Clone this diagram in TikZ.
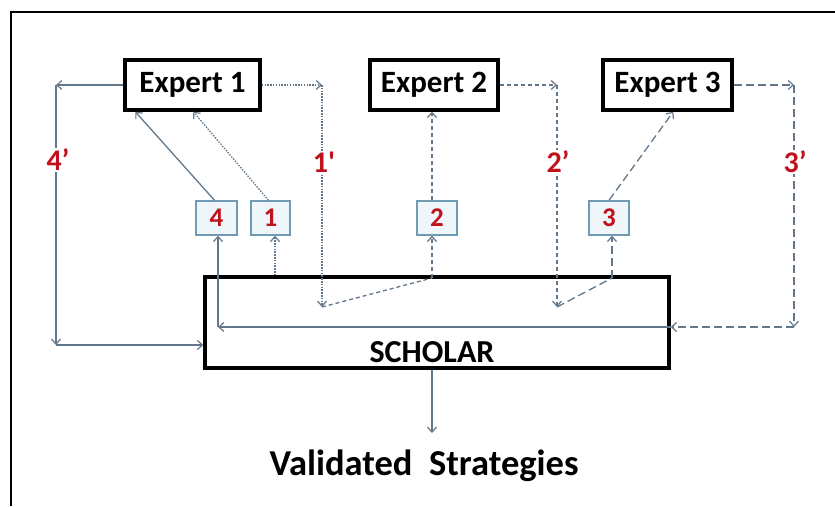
\documentclass[tikz,border=0pt]{standalone}
\usepackage{fontspec}
\setmainfont{Carlito}
\usetikzlibrary{arrows.meta,calc}
\definecolor{conn}{HTML}{63778A}
\definecolor{numred}{HTML}{C0121C}
\definecolor{boxedge}{HTML}{6F9BB5}
\definecolor{boxfill}{HTML}{EEF6FA}
\tikzset{
  bigbox/.style={draw=black,line width=3.4pt,fill=white,inner sep=0pt,font=\bfseries\fontsize{31}{31}\selectfont},
  numbox/.style={draw=boxedge,line width=1.4pt,fill=boxfill,inner sep=0pt,minimum width=40pt,minimum height=34pt,text=numred,font=\bfseries\fontsize{27}{27}\selectfont},
  conline/.style={draw=conn,line width=1.3pt},
  arr/.style={conline,-{Straight Barb[length=5pt,width=9pt,line width=1.2pt]}},
  dotl/.style={dash pattern=on 1.5pt off 1.3pt},
  shdash/.style={dash pattern=on 4pt off 3pt},
  lgdash/.style={dash pattern=on 8pt off 4pt},
  primelab/.style={fill=white,inner sep=1pt,text=numred,font=\bfseries\fontsize{30}{30}\selectfont}
}
\begin{document}
\begin{tikzpicture}[x=1pt,y=-1pt]
\useasboundingbox (0,0) rectangle (835,506);
% frame (only top and left visible)
\draw[line width=2.5pt] (835,12) -- (11,12) -- (11,506);

% main boxes
\node[bigbox,minimum width=135pt,minimum height=50pt] (e1) at (192.5,85) {Expert 1};
\node[bigbox,minimum width=128pt,minimum height=50pt] (e2) at (434,85) {Expert 2};
\node[bigbox,minimum width=129pt,minimum height=50pt] (e3) at (667.5,85) {Expert 3};
\node[bigbox,minimum width=464pt,minimum height=91pt] (sch) at (437,322.5) {};
\node[font=\bfseries\fontsize{32}{32}\selectfont,inner sep=0pt] (schl) at (432,352) {SCHOLAR};
\node[font=\bfseries\fontsize{36.5}{36.5}\selectfont,inner sep=0pt] (val) at (424,466) {Validated\ \ Strategies};

% numbered boxes
\node[numbox,minimum width=41pt] (b4) at (216.5,218) {4};
\node[numbox,minimum width=39pt] (b1) at (270.5,218) {1};
\node[numbox] (b2) at (437,218) {2};
\node[numbox] (b3) at (609,218) {3};

% corner coordinates
\coordinate (c4a) at (56,85);
\coordinate (c4b) at (56,345);
\coordinate (c1a) at (322,85);
\coordinate (c1b) at (322,307);
\coordinate (c2a) at (557,85);
\coordinate (c2b) at (557,307);
\coordinate (c3a) at (794,85);
\coordinate (c3b) at (794,327);
\coordinate (k2) at (432,278);
\coordinate (k3) at (612,278);
\coordinate (k4) at (218,327);
\coordinate (vo) at (432,433);

% path 4 (solid)
\draw[arr] (e1.west) -- (c4a);
\draw[arr] (c4a) -- (c4b);
\draw[arr] (c4b) -- (c4b -| sch.west);
\draw[arr] ($(b4.north)+(-2,0)$) -- ($(e1.south west)+(12,0)$);
\draw[arr] (sch.east |- k4) -- (k4);
\draw[arr] (k4) -- (k4 |- b4.south);
\node[primelab] (l4) at (58,160) {4’};

% path 1 (dotted)
\draw[arr,dotl] (sch.north -| 275,0) -- (b1.south -| 275,0);
\draw[arr,dotl] ($(b1.north)+(-2,0)$) -- ($(e1.south west)+(70,0)$);
\draw[arr,dotl] (e1.east) -- (c1a);
\draw[arr,dotl] (c1a) -- (c1b);
\node[primelab] (l1) at (324,162) {1\textquotesingle};

% path 2 (short dashes)
\draw[conline,shdash] (c1b) -- (k2);
\draw[arr,shdash] (k2) -- (k2 |- b2.south);
\draw[arr,shdash] (b2.north -| k2) -- (e2.south -| k2);
\draw[arr,shdash] (e2.east) -- (c2a);
\draw[arr,shdash] (c2a) -- (c2b);
\node[primelab] (l2) at (558,162) {2’};

% path 3 (long dashes)
\draw[conline,lgdash] (c2b) -- (k3);
\draw[arr,lgdash] (k3) -- (k3 |- b3.south);
\draw[arr,lgdash] (b3.north) -- ($(e3.south west)+(72,0)$);
\draw[arr,lgdash] (e3.east) -- (c3a);
\draw[arr,lgdash] (c3a) -- (c3b);
\draw[arr,lgdash] (c3b) -- (sch.east |- c3b);
\node[primelab] (l3) at (795,162) {3’};

% output
\draw[arr] (sch.south -| vo) -- (vo);
\end{tikzpicture}
\end{document}
